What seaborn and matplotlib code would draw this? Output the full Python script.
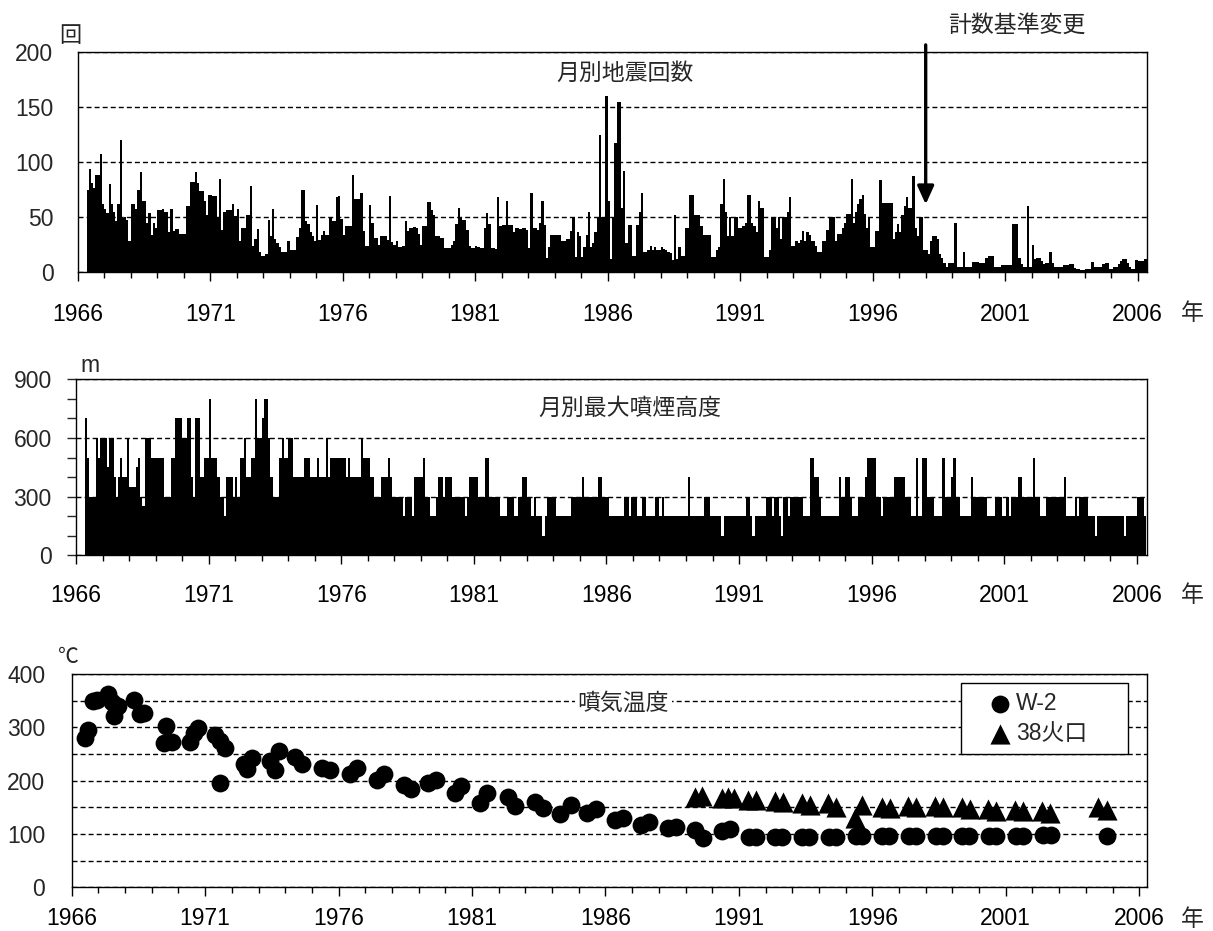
import numpy as np
import pandas as pd
import matplotlib
matplotlib.use("Agg")
import matplotlib.pyplot as plt
from matplotlib.ticker import MultipleLocator
import seaborn as sns

# 月別地震回数, monthly, May 1966 - Apr 2006 (one line per year)
quake_1960s = [
    75, 94, 81, 76, 88, 88, 107, 62,                  # 1966 May-Dec
    57, 54, 80, 62, 55, 46, 62, 120, 49, 50, 47, 28,  # 1967
    62, 62, 57, 75, 91, 65, 65, 45, 54, 34, 45, 40,   # 1968
    56, 56, 57, 55, 55, 36, 57, 37, 39, 39, 35, 35,   # 1969
]
quake_1970s = [
    35, 60, 60, 82, 82, 91, 81, 74, 74, 65, 52, 70,
    70, 69, 69, 50, 85, 38, 55, 56, 56, 56, 62, 51,
    57, 28, 40, 40, 52, 52, 78, 24, 30, 39, 18, 15,
    15, 16, 47, 33, 57, 30, 26, 23, 18, 18, 18, 28,
    20, 20, 20, 32, 40, 75, 75, 46, 44, 36, 33, 28,
    61, 29, 34, 37, 34, 34, 50, 46, 46, 68, 69, 48,
    34, 42, 42, 42, 88, 66, 66, 66, 72, 37, 24, 24,
    61, 45, 31, 31, 25, 33, 33, 33, 29, 69, 27, 25,
    28, 23, 23, 24, 46, 37, 40, 40, 41, 40, 35, 25,
    42, 42, 64, 64, 56, 52, 33, 33, 31, 31, 22, 22,
]
quake_1980s = [
    22, 25, 28, 44, 58, 50, 47, 47, 38, 24, 22, 22,
    24, 23, 22, 22, 40, 54, 44, 22, 22, 21, 68, 42,
    43, 43, 65, 43, 43, 36, 40, 40, 39, 40, 40, 38,
    22, 72, 40, 40, 38, 45, 65, 43, 13, 23, 34, 34,
    34, 34, 34, 28, 28, 30, 30, 37, 50, 14, 36, 33,
    14, 23, 34, 55, 23, 26, 36, 50, 125, 50, 50, 160,
    65, 12, 50, 117, 155, 155, 58, 92, 26, 43, 43, 15,
    15, 43, 55, 72, 18, 18, 20, 24, 20, 23, 20, 20,
    23, 21, 20, 18, 17, 11, 52, 12, 23, 15, 15, 40,
    40, 70, 70, 52, 52, 52, 42, 34, 34, 34, 34, 14,
]
quake_1990s = [
    14, 20, 23, 62, 85, 55, 33, 50, 33, 50, 50, 40,
    40, 42, 45, 70, 70, 45, 42, 36, 65, 58, 58, 14,
    14, 20, 50, 50, 40, 50, 30, 50, 50, 55, 68, 24,
    24, 28, 26, 29, 37, 28, 36, 34, 28, 28, 24, 18,
    18, 28, 28, 38, 50, 50, 50, 28, 35, 35, 40, 45,
    53, 53, 85, 45, 55, 62, 66, 70, 53, 40, 50, 23,
    23, 37, 37, 84, 63, 63, 63, 63, 63, 30, 36, 44,
    36, 52, 60, 68, 58, 58, 87, 40, 33, 50, 50, 20,
    20, 16, 28, 33, 33, 30, 16, 13, 8, 5, 8, 8,
    8, 45, 5, 5, 5, 18, 5, 5, 5, 9, 9, 9,
]
quake_2000s = [
    8, 8, 8, 13, 15, 15, 15, 5, 5, 5, 6, 6,
    6, 6, 6, 44, 44, 44, 13, 7, 5, 5, 60, 5,
    25, 12, 13, 13, 10, 7, 8, 8, 18, 8, 5, 5,
    5, 5, 6, 6, 6, 7, 7, 4, 3, 3, 2, 2,
    3, 3, 3, 9, 5, 5, 5, 5, 7, 8, 8, 3,
    3, 5, 5, 7, 10, 12, 12, 8, 5, 3, 3, 11,
    10, 10, 10, 12,                                   # 2006 Jan-Apr
]

# 月別最大噴煙高度 (m), monthly, May 1966 - Apr 2006
smoke_1960s = [
    700, 500, 300, 300, 300, 600, 500, 600,
    600, 600, 450, 600, 600, 400, 300, 400, 500, 400, 400, 600,
    350, 350, 350, 450, 500, 300, 250, 600, 600, 600, 500, 500,
    500, 500, 500, 500, 300, 300, 300, 500, 500, 700, 700, 700,
]
smoke_1970s = [
    600, 600, 700, 700, 400, 300, 700, 700, 400, 400, 500, 500,
    800, 500, 500, 500, 400, 300, 300, 200, 400, 400, 400, 300,
    400, 300, 500, 500, 600, 400, 400, 500, 500, 800, 600, 600,
    700, 800, 800, 600, 400, 300, 300, 300, 500, 600, 500, 500,
    600, 600, 400, 400, 400, 400, 400, 500, 500, 500, 400, 400,
    400, 500, 400, 400, 400, 600, 400, 500, 500, 500, 500, 500,
    500, 500, 400, 500, 400, 400, 400, 400, 400, 600, 500, 500,
    500, 400, 400, 300, 300, 300, 400, 400, 400, 500, 400, 300,
    300, 300, 300, 300, 200, 300, 300, 300, 200, 400, 400, 400,
    400, 500, 300, 300, 200, 200, 200, 300, 400, 400, 300, 400,
]
smoke_1980s = [
    400, 400, 300, 300, 300, 300, 300, 300, 200, 300, 400, 400,
    400, 400, 300, 300, 300, 500, 500, 300, 300, 300, 300, 300,
    200, 200, 200, 300, 300, 300, 200, 200, 300, 300, 400, 400,
    300, 300, 200, 300, 200, 200, 200, 100, 200, 300, 300, 300,
    300, 200, 200, 200, 200, 200, 200, 200, 300, 300, 300, 300,
    300, 400, 300, 300, 300, 300, 300, 300, 400, 400, 300, 300,
    300, 200, 200, 200, 200, 200, 200, 200, 300, 300, 200, 300,
    300, 300, 200, 200, 300, 300, 200, 200, 200, 200, 300, 300,
    200, 300, 200, 200, 200, 200, 200, 200, 200, 200, 200, 200,
    200, 400, 200, 200, 200, 200, 200, 200, 300, 300, 300, 200,
]
smoke_1990s = [
    200, 200, 200, 200, 100, 200, 200, 200, 200, 200, 200, 200,
    200, 200, 200, 300, 300, 200, 100, 200, 200, 200, 200, 200,
    300, 300, 300, 200, 300, 300, 200, 100, 300, 300, 200, 300,
    300, 300, 300, 300, 300, 200, 200, 200, 500, 500, 400, 400,
    300, 200, 200, 200, 200, 200, 200, 200, 200, 400, 300, 300,
    400, 400, 300, 200, 200, 200, 300, 300, 300, 400, 500, 500,
    500, 500, 300, 300, 200, 300, 300, 300, 300, 300, 400, 400,
    400, 400, 400, 300, 300, 300, 200, 200, 500, 200, 200, 500,
    500, 300, 300, 300, 200, 200, 200, 200, 500, 300, 300, 300,
    400, 500, 300, 300, 200, 200, 200, 200, 200, 400, 300, 300,
]
smoke_2000s = [
    300, 300, 300, 300, 200, 200, 200, 200, 300, 300, 300, 200,
    200, 300, 200, 300, 300, 300, 400, 400, 300, 300, 300, 300,
    300, 500, 300, 300, 200, 200, 200, 300, 300, 300, 300, 300,
    300, 300, 300, 400, 200, 200, 200, 200, 300, 200, 300, 300,
    300, 300, 200, 200, 200, 100, 200, 200, 200, 200, 200, 200,
    200, 200, 200, 200, 200, 200, 100, 200, 200, 200, 200, 200,
    300, 300, 300, 200,
]

# 噴気温度 (℃)
w2_year = [1966.50, 1966.60, 1966.80, 1966.95, 1967.35, 1967.50, 1967.60, 1967.75,
           1968.35, 1968.55, 1968.70, 1969.45, 1969.55, 1969.75, 1970.45, 1970.60,
           1970.75, 1971.38, 1971.56, 1971.75, 1971.56, 1972.44, 1972.56, 1972.75,
           1973.44, 1973.60, 1973.75, 1974.38, 1974.62, 1975.38, 1975.69, 1976.44,
           1976.69, 1977.44, 1977.69, 1978.44, 1978.70, 1979.35, 1979.65, 1980.35,
           1980.60, 1981.30, 1981.55, 1982.35, 1982.60, 1983.35, 1983.65, 1984.30,
           1984.70, 1985.30, 1985.65, 1986.35, 1986.65, 1987.35, 1987.65, 1988.35,
           1988.65, 1989.35, 1989.65, 1990.35, 1990.65, 1991.37, 1991.63, 1992.37,
           1992.63, 1993.37, 1993.63, 1994.37, 1994.63, 1995.37, 1995.63, 1996.37,
           1996.63, 1997.37, 1997.63, 1998.37, 1998.63, 1999.37, 1999.63, 2000.37,
           2000.63, 2001.37, 2001.63, 2002.40, 2002.70, 2004.80]
w2_temp = [280, 295, 350, 352, 362, 348, 322, 340,
           352, 325, 326, 270, 302, 272, 272, 290,
           298, 285, 275, 262, 196, 232, 222, 243,
           237, 220, 256, 245, 232, 223, 220, 213,
           224, 202, 213, 192, 184, 195, 202, 176,
           190, 158, 176, 170, 152, 160, 148, 138,
           154, 139, 147, 127, 130, 117, 122, 111,
           114, 107, 93, 106, 110, 95, 95, 95,
           95, 95, 95, 95, 95, 96, 96, 96,
           96, 96, 96, 96, 96, 96, 96, 96,
           96, 96, 96, 98, 98, 97]

crater_year = [1989.35, 1989.60, 1990.35, 1990.60, 1990.80, 1991.35, 1991.65, 1992.35,
               1992.65, 1993.35, 1993.65, 1994.35, 1994.65, 1995.35, 1995.60, 1996.35,
               1996.65, 1997.35, 1997.65, 1998.35, 1998.65, 1999.35, 1999.65, 2000.35,
               2000.65, 2001.35, 2001.65, 2002.35, 2002.65, 2004.45, 2004.80]
crater_temp = [170, 172, 168, 170, 168, 164, 163, 162,
               160, 158, 155, 158, 150, 130, 154, 150,
               148, 152, 150, 152, 150, 150, 147, 146,
               143, 145, 143, 143, 140, 150, 145]

year_ticks = list(range(1966, 2007, 5))
year_labels = [str(y) for y in year_ticks]

sns.set_style("ticks")
plt.rcParams["font.family"] = ["Liberation Sans", "Noto Sans CJK JP"]
plt.rcParams["axes.unicode_minus"] = False
FS = 16.5
DASH = (0, (3.6, 2.2))


def monthly_frame(values, name):
    idx = np.arange(len(values))
    return pd.DataFrame({"year": 1966 + (4 + idx + 0.5) / 12, name: values})


def style_axes(ax, right, xpad):
    ax.set_xlim(1966, right)
    ax.set_xticks(year_ticks)
    ax.set_xticklabels(year_labels)
    ax.xaxis.set_minor_locator(MultipleLocator(1))
    ax.tick_params(axis="x", which="major", length=6.5, width=1, pad=xpad,
                   labelsize=FS, colors="black")
    ax.tick_params(axis="x", which="minor", length=4.5, width=1, colors="black")
    ax.set_xlabel("")
    ax.set_ylabel("")
    ax.set_axisbelow(True)
    for sp in ax.spines.values():
        sp.set_visible(True)
        sp.set_color("black")
        sp.set_linewidth(1.0)


fig = plt.figure(figsize=(12.13, 9.31), dpi=100)
W, H = 1213, 931

# ---- earthquakes
ax1 = fig.add_axes([77.7 / W, 1 - 272 / H, 1069 / W, 220 / H])
quakes = monthly_frame(quake_1960s + quake_1970s + quake_1980s + quake_1990s + quake_2000s, "count")
sns.barplot(data=quakes, x="year", y="count", native_scale=True, width=1.0,
            color="black", saturation=1, linewidth=0, errorbar=None, ax=ax1)
style_axes(ax1, 2006.34, 16)
ax1.set_ylim(0, 200)
ax1.set_yticks([0, 50, 100, 150, 200])
ax1.tick_params(axis="y", length=0, pad=17.5, labelsize=FS)
ax1.grid(axis="y", color="black", linestyle=DASH, linewidth=1.0)
ax1.text(0.512, 0.905, "月別地震回数", transform=ax1.transAxes, ha="center", va="center",
         fontsize=FS, family=["Noto Sans CJK JP"])
ax1.annotate("", xy=(1998.0, 59), xytext=(1998.0, 209), annotation_clip=False,
             arrowprops=dict(arrowstyle="-|>,head_width=0.25,head_length=0.55",
                             mutation_scale=20, lw=2.4, color="black"))
ax1.text(2001.45, 224.5, "計数基準変更", ha="center", va="center", fontsize=FS,
         family=["Noto Sans CJK JP"], clip_on=False)

# ---- plume height
ax2 = fig.add_axes([76 / W, 1 - 555.3 / H, 1070.7 / W, 176 / H])
smoke = monthly_frame(smoke_1960s + smoke_1970s + smoke_1980s + smoke_1990s + smoke_2000s, "height")
sns.barplot(data=smoke, x="year", y="height", native_scale=True, width=1.0,
            color="black", saturation=1, linewidth=0, errorbar=None, ax=ax2)
style_axes(ax2, 2006.37, 14.5)
ax2.set_ylim(0, 900)
ax2.set_yticks([0, 300, 600, 900])
ax2.yaxis.set_minor_locator(MultipleLocator(100))
ax2.tick_params(axis="y", which="both", length=6.5, width=1, pad=11, labelsize=FS)
ax2.grid(axis="y", which="major", color="black", linestyle=DASH, linewidth=1.0)
ax2.text(0.517, 0.837, "月別最大噴煙高度", transform=ax2.transAxes, ha="center", va="center",
         fontsize=FS, family=["Noto Sans CJK JP"])

# ---- fumarole temperature
ax3 = fig.add_axes([71.7 / W, 1 - 887.3 / H, 1075 / W, 213.3 / H])
w2 = pd.DataFrame({"year": w2_year, "temp": w2_temp})
crater = pd.DataFrame({"year": crater_year, "temp": crater_temp})
sns.scatterplot(data=w2, x="year", y="temp", marker="o", s=165, color="black",
                linewidth=0, ax=ax3, label="W-2", zorder=3)
sns.scatterplot(data=crater, x="year", y="temp", marker="^", s=210, color="black",
                linewidth=0, ax=ax3, label="38火口", zorder=3)
style_axes(ax3, 2006.28, 7.5)
ax3.set_ylim(0, 400)
ax3.set_yticks([0, 100, 200, 300, 400])
ax3.yaxis.set_minor_locator(MultipleLocator(50))
ax3.tick_params(axis="y", which="both", length=0, pad=19, labelsize=FS)
ax3.grid(axis="y", which="both", color="black", linestyle=DASH, linewidth=1.0)
ax3.text(0.513, 0.864, "噴気温度", transform=ax3.transAxes, ha="center", va="center",
         fontsize=FS, family=["Noto Sans CJK JP"], zorder=4,
         bbox=dict(facecolor="white", edgecolor="none", pad=2))
leg = ax3.legend(loc="upper left", bbox_to_anchor=(0.827, 0.587, 0.156, 0.371),
                 mode="expand", borderaxespad=0, fontsize=FS, frameon=True,
                 fancybox=False, framealpha=1, edgecolor="black", borderpad=0.4,
                 labelspacing=0.3, handlelength=2.6, handletextpad=-0.6,
                 scatterpoints=1)
leg.get_frame().set_linewidth(1.0)
leg.set_zorder(5)

# unit and year labels
fig.text(70 / W, 1 - 36 / H, "回", ha="center", va="center", fontsize=16,
         family=["Noto Sans CJK JP"])
fig.text(90 / W, 1 - 365 / H, "m", ha="center", va="center", fontsize=FS)
fig.text(68 / W, 1 - 657 / H, "℃", ha="center", va="center", fontsize=15,
         family=["Noto Sans CJK JP"])
for ly in (313.5, 596, 919):
    fig.text(1192 / W, 1 - ly / H, "年", ha="center", va="center", fontsize=FS,
             family=["Noto Sans CJK JP"])

plt.savefig("out.png", dpi=100)
